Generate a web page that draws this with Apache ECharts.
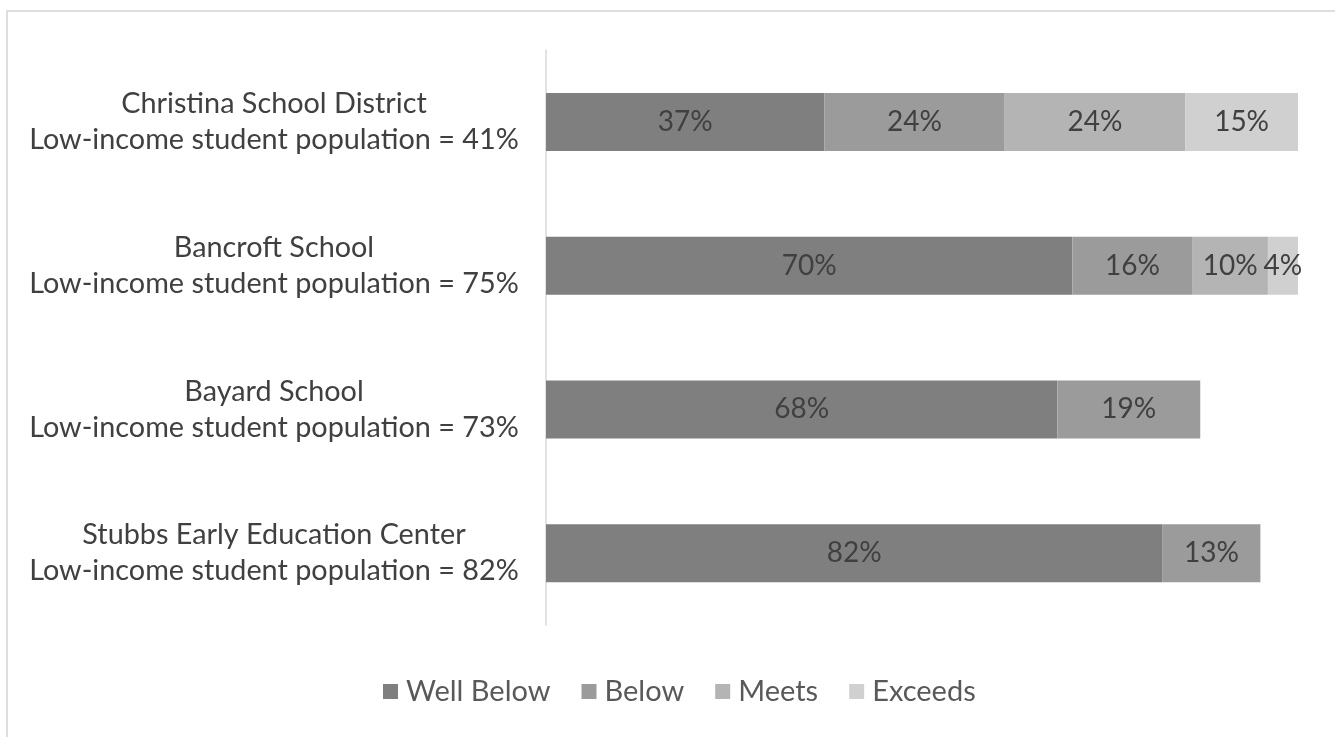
<!DOCTYPE html>
<html><head><meta charset="utf-8">
<script src="https://cdn.jsdelivr.net/npm/echarts@6/dist/echarts.min.js"></script>
<style>html,body{margin:0;padding:0;background:#fff;}#c{width:1335px;height:737px;}</style>
</head><body><div id="c"></div>
<script>
const categories = [
  "Christina School District\nLow-income student population = 41%",
  "Bancroft School\nLow-income student population = 75%",
  "Bayard School\nLow-income student population = 73%",
  "Stubbs Early Education Center\nLow-income student population = 82%"
];
const seriesNames = ["Well Below", "Below", "Meets", "Exceeds"];
const wellBelow = [37, 70, 68, 82];
const below = [24, 16, 19, 13];
const meets = [24, 10, null, null];
const exceeds = [15, 4, null, null];
const colors = ["#7f7f7f", "#9b9b9b", "#b4b4b4", "#d0d0d0"];

const chart = echarts.init(document.getElementById('c'), null, {renderer: 'canvas'});
const font = 'Lato, "Open Sans", sans-serif';
const values = [wellBelow, below, meets, exceeds];
chart.setOption({
  backgroundColor: '#ffffff',
  animation: false,
  textStyle: {fontFamily: font},
  grid: {left: 546, right: 37, top: 50, bottom: 112},
  legend: {
    top: 672, left: 378,
    itemWidth: 15, itemHeight: 15, itemGap: 31,
    icon: 'rect',
    textStyle: {fontSize: 29, color: '#595959', fontFamily: font, padding: [0, 0, 0, 3]},
    data: seriesNames
  },
  xAxis: {type: 'value', min: 0, max: 100, show: false},
  yAxis: {
    type: 'category', inverse: true, data: categories,
    axisLine: {lineStyle: {color: '#d9d9d9', width: 1.5}},
    axisTick: {show: false},
    axisLabel: {align: 'center', margin: 272, fontSize: 28.8, lineHeight: 36, color: '#404040', fontFamily: font}
  },
  series: seriesNames.map((n, i) => ({
    name: n, type: 'bar', stack: 'total', barWidth: 58,
    itemStyle: {color: colors[i]},
    label: {show: true, position: 'inside', formatter: '{c}%', fontSize: 28, color: '#404040', fontFamily: font},
    data: values[i]
  })),
  graphic: [{
    type: 'polyline', silent: true,
    shape: {points: [[7, 737], [7, 11], [1335, 11]]},
    style: {stroke: '#dedede', lineWidth: 2, fill: null}
  }]
});
</script></body></html>
